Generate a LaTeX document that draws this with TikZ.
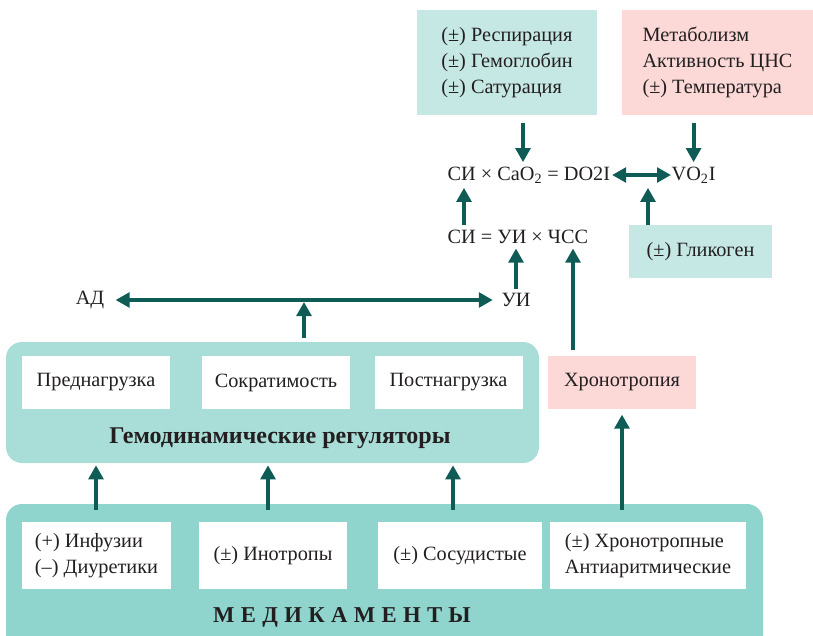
\documentclass[tikz,border=0pt]{standalone}
\usepackage{fontspec}
\setmainfont{Liberation Serif}
\usepackage{tikz}
\usetikzlibrary{arrows.meta,positioning}
\definecolor{arrowteal}{HTML}{0E5C55}
\definecolor{paleteal}{HTML}{C6E8E4}
\definecolor{hemoteal}{HTML}{A9DDD7}
\definecolor{medteal}{HTML}{8FD4CD}
\definecolor{rosepink}{HTML}{FCD8D7}
\definecolor{textdark}{HTML}{231F20}

\begin{document}
\begin{tikzpicture}[x=0.75pt, y=-0.75pt,
    every node/.style={font=\fontsize{15.2}{19.5}\selectfont, text=textdark},
    arr/.style={-{Triangle[length=10.5pt,width=11pt]}, line width=3pt, draw=arrowteal},
    darr/.style={{Triangle[length=10.5pt,width=11pt]}-{Triangle[length=10.5pt,width=11pt]}, line width=3pt, draw=arrowteal},
    pale/.style={fill=paleteal, inner sep=0pt, align=left},
    rose/.style={fill=rosepink, inner sep=0pt, align=left},
    cell/.style={fill=white, inner sep=0pt, align=left, minimum height=39.75pt, minimum width=111pt}]
    \clip (0,0) rectangle (813,635);

    % Oxygen supply and demand
    \node[pale, minimum width=135pt, minimum height=78.75pt] (resp) at (507,62.5) {(±) Респирация\\(±) Гемоглобин\\(±) Сатурация};
    \node[rose, minimum width=143.25pt, minimum height=78.75pt] (metab) at (717.5,62.5) {Метаболизм\\Активность ЦНС\\(±) Температура};
    \node[anchor=west] (do2) at (443,175) {СИ × CaO\textsubscript{2} = DO2I};
    \node[anchor=west] (vo2) at (667,175) {VO\textsubscript{2}I};
    \node[anchor=west] (si) at (443,237) {СИ = УИ × ЧСС};
    \node[pale, minimum width=107.25pt, minimum height=39.75pt] (glyk) at (700.5,251.5) {(±) Гликоген};

    % Pressure and stroke index
    \node (ad) at (90,300) {АД};
    \node (ui) at (516,300) {УИ};

    % === Hemodynamic regulators ===
    \node[fill=hemoteal, rounded corners=12pt, minimum width=399.75pt, minimum height=90.75pt] (hemo) at (272.5,402.5) {};
    \node[cell] (preload) at (96,382.5) {Преднагрузка};
    \node[cell] (contract) at (276,382.5) {Сократимость};
    \node[cell] (afterload) at (448.5,382.5) {Постнагрузка};
    \node[font=\bfseries\fontsize{18}{21}\selectfont] (hemotitle) at (280,438) {Гемодинамические регуляторы};
    \node[rose, minimum width=111pt, minimum height=39.75pt] (chrono) at (622,382.5) {Хронотропия};

    % === Medications ===
    \node[fill=medteal, rounded corners=12pt, minimum width=567.75pt, minimum height=120pt] (meds) at (384.5,584) {};
    \node[cell, minimum width=111.75pt, minimum height=50.25pt] (infus) at (96.5,555.5) {(+) Инфузии\\(–) Диуретики};
    \node[cell, minimum height=50.25pt] (inotr) at (273,555.5) {(±) Инотропы};
    \node[cell, minimum width=123pt, minimum height=50.25pt] (vaso) at (460,555.5) {(±) Сосудистые};
    \node[cell, minimum width=147pt, minimum height=50.25pt] (chronomed) at (648,555.5) {(±) Хронотропные\\Антиаритмические};
    \node[font=\bfseries\fontsize{17}{20}\selectfont\addfontfeature{LetterSpace=28}] (medtitle) at (342,617) {МЕДИКАМЕНТЫ};

    % Arrows
    \draw[arr, shorten <=6pt] (resp.south -| 523,0) -- (do2.north -| 523,0);
    \draw[arr, shorten <=6pt] (metab.south -| vo2.north) -- (vo2.north);
    \draw[darr, shorten <=-2pt, shorten >=-3pt] (do2.east) -- (vo2.west);
    \draw[arr] (si.north -| 464,0) -- (do2.south -| 464,0);
    \draw[arr] (glyk.north -| 648,0) -- (do2.south -| 648,0);
    \draw[arr] (ui.north) -- (si.south -| ui.north);
    \draw[arr, shorten <=4pt] (chrono.north -| 573,0) -- (si.south -| 573,0);
    \draw[darr, shorten <=5pt, shorten >=3pt] (ad.east) -- (ui.west);
    \draw[arr, shorten <=3pt, shorten >=1.5pt] (hemo.north -| 304,0) -- (ad.center -| 304,0);
    \foreach \x in {96,268,453}
        \draw[arr, shorten <=-4.5pt, shorten >=1.5pt] (meds.north -| \x,0) -- (hemo.south -| \x,0);
    \draw[arr, shorten <=-4.5pt, shorten >=4pt] (meds.north -| chrono.south) -- (chrono.south);
\end{tikzpicture}
\end{document}
